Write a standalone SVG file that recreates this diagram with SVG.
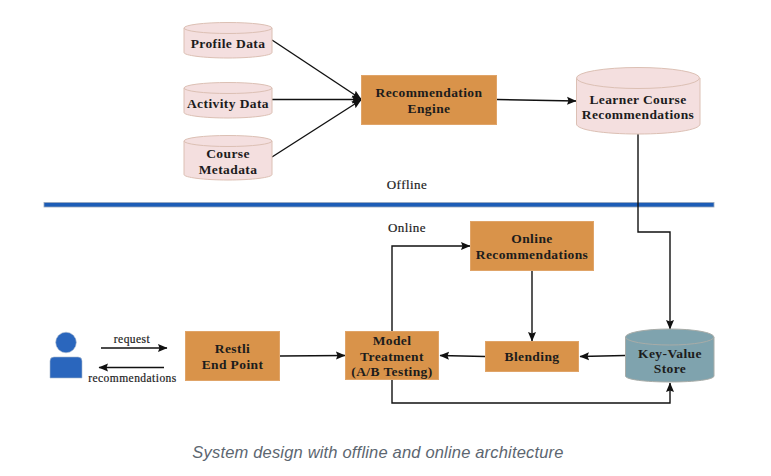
<svg xmlns="http://www.w3.org/2000/svg" width="771" height="476" viewBox="0 0 771 476">
<style>
.t{font-family:"Liberation Serif",serif;font-weight:bold;font-size:13.500px;fill:#1c1c1c;text-anchor:middle;letter-spacing:.4px}
.s{font-size:13px;font-weight:normal;letter-spacing:.45px;stroke:#1c1c1c;stroke-width:.2px}
.m{font-size:11.500px;font-weight:normal;letter-spacing:.45px;stroke:#1c1c1c;stroke-width:.2px}
.box{fill:#d9934a;stroke:#e0a468;stroke-width:1}
.cyl{fill:#f4dfdf;stroke:#dcc0b4;stroke-width:1}
.kv{fill:#7fa3ae;stroke:#a8aca8;stroke-width:1}
.c{fill:none;stroke:#111;stroke-width:1.400}
</style>
<defs>
<marker id="a" markerUnits="userSpaceOnUse" markerWidth="10" markerHeight="9" refX="9" refY="4.500" orient="auto"><path d="M0 .5L9.500 4.500L0 8.500L1.500 4.500Z" fill="#111"/></marker>
</defs>
<rect width="771" height="476" fill="#fff"/>
<rect id="divider" x="44" y="202.500" width="670" height="4.500" fill="#1c5cb6" stroke="#9aa8bc" stroke-width=".8"/>
<g id="connectors">
<path class="c" d="M272 40L361 99" marker-end="url(#a)"/>
<path class="c" d="M272 99.500H361" marker-end="url(#a)"/>
<path class="c" d="M272 157L361 100" marker-end="url(#a)"/>
<path class="c" d="M497 99.500L576 101" marker-end="url(#a)"/>
<path class="c" d="M638 134V232H670V329" marker-end="url(#a)"/>
<path class="c" d="M101 348H167" marker-end="url(#a)"/>
<path class="c" d="M164 367.500H99" marker-end="url(#a)"/>
<path class="c" d="M280 356L345 355.500" marker-end="url(#a)"/>
<path class="c" d="M392 331V246H470" marker-end="url(#a)"/>
<path class="c" d="M532 271V341" marker-end="url(#a)"/>
<path class="c" d="M485 356.500L440 355.500" marker-end="url(#a)"/>
<path class="c" d="M625 355.500L580 356.500" marker-end="url(#a)"/>
<path class="c" d="M392 380V403H670V383" marker-end="url(#a)"/>
</g>
<g id="profile-data"><path class="cyl" d="M184 28V52.500C184 55.500 204 58 228 58S272 55.500 272 52.500V28"/><ellipse class="cyl" cx="228" cy="28" rx="44" ry="5.500"/><text class="t" x="228" y="48">Profile Data</text></g>
<g id="activity-data"><path class="cyl" d="M184 88V112.500C184 115.500 204 118 228 118S272 115.500 272 112.500V88"/><ellipse class="cyl" cx="228" cy="88" rx="44" ry="5.500"/><text class="t" x="228" y="108">Activity Data</text></g>
<g id="course-metadata"><path class="cyl" d="M184 141V174.500C184 177.500 204 180 228 180S272 177.500 272 174.500V141"/><ellipse class="cyl" cx="228" cy="141" rx="44" ry="5.500"/><text class="t" x="228" y="158">Course</text><text class="t" x="228" y="174">Metadata</text></g>
<g id="recommendation-engine"><rect class="box" x="361.500" y="75.500" width="135" height="49"/><text class="t" x="429" y="97">Recommendation</text><text class="t" x="429" y="113">Engine</text></g>
<g id="learner-course-recommendations"><path class="cyl" d="M576.500 78V124C576.500 130 604 134 638 134S700 130 700 124V78"/><ellipse class="cyl" cx="638" cy="78" rx="61.500" ry="10.500"/><text class="t" x="638" y="104">Learner Course</text><text class="t" x="638" y="119">Recommendations</text></g>
<g id="offline-label"><text class="t s" x="407" y="189">Offline</text></g>
<g id="online-label"><text class="t s" x="407" y="232">Online</text></g>
<g id="online-recommendations"><rect class="box" x="470.500" y="221.500" width="123" height="49"/><text class="t" x="532" y="243">Online</text><text class="t" x="532" y="259">Recommendations</text></g>
<g id="user"><circle cx="66" cy="342.500" r="10.300" fill="#2a66bd" stroke="#a9b8cc" stroke-width=".6"/><path d="M50 361Q50 357 54 357H78Q82 357 82 361V378H50Z" fill="#2a66bd" stroke="#a9b8cc" stroke-width=".6"/></g>
<g id="request-label"><text class="t m" x="132" y="343">request</text></g>
<g id="recommendations-label"><text class="t m" x="132.500" y="382">recommendations</text></g>
<g id="restli-end-point"><rect class="box" x="185.500" y="331.500" width="94" height="49"/><text class="t" x="232.500" y="353">Restli</text><text class="t" x="232.500" y="369">End Point</text></g>
<g id="model-treatment"><rect class="box" x="345.500" y="331.500" width="93" height="48"/><text class="t" x="392" y="345">Model</text><text class="t" x="392" y="361">Treatment</text><text class="t" x="392" y="376">(A/B Testing)</text></g>
<g id="blending"><rect class="box" x="485.500" y="341.500" width="93" height="30"/><text class="t" x="532" y="361">Blending</text></g>
<g id="key-value-store"><path class="kv" d="M625.500 337V376C625.500 379.500 645 382 670 382S714 379.500 714 376V337"/><ellipse class="kv" cx="669.700" cy="337" rx="44.200" ry="8"/><text class="t" x="670" y="358">Key-Value</text><text class="t" x="670" y="373">Store</text></g>
<text id="caption" x="378" y="458" font-family="Liberation Sans, sans-serif" font-style="italic" font-size="16.500" letter-spacing=".18" fill="#5c6670" text-anchor="middle">System design with offline and online architecture</text>
</svg>
